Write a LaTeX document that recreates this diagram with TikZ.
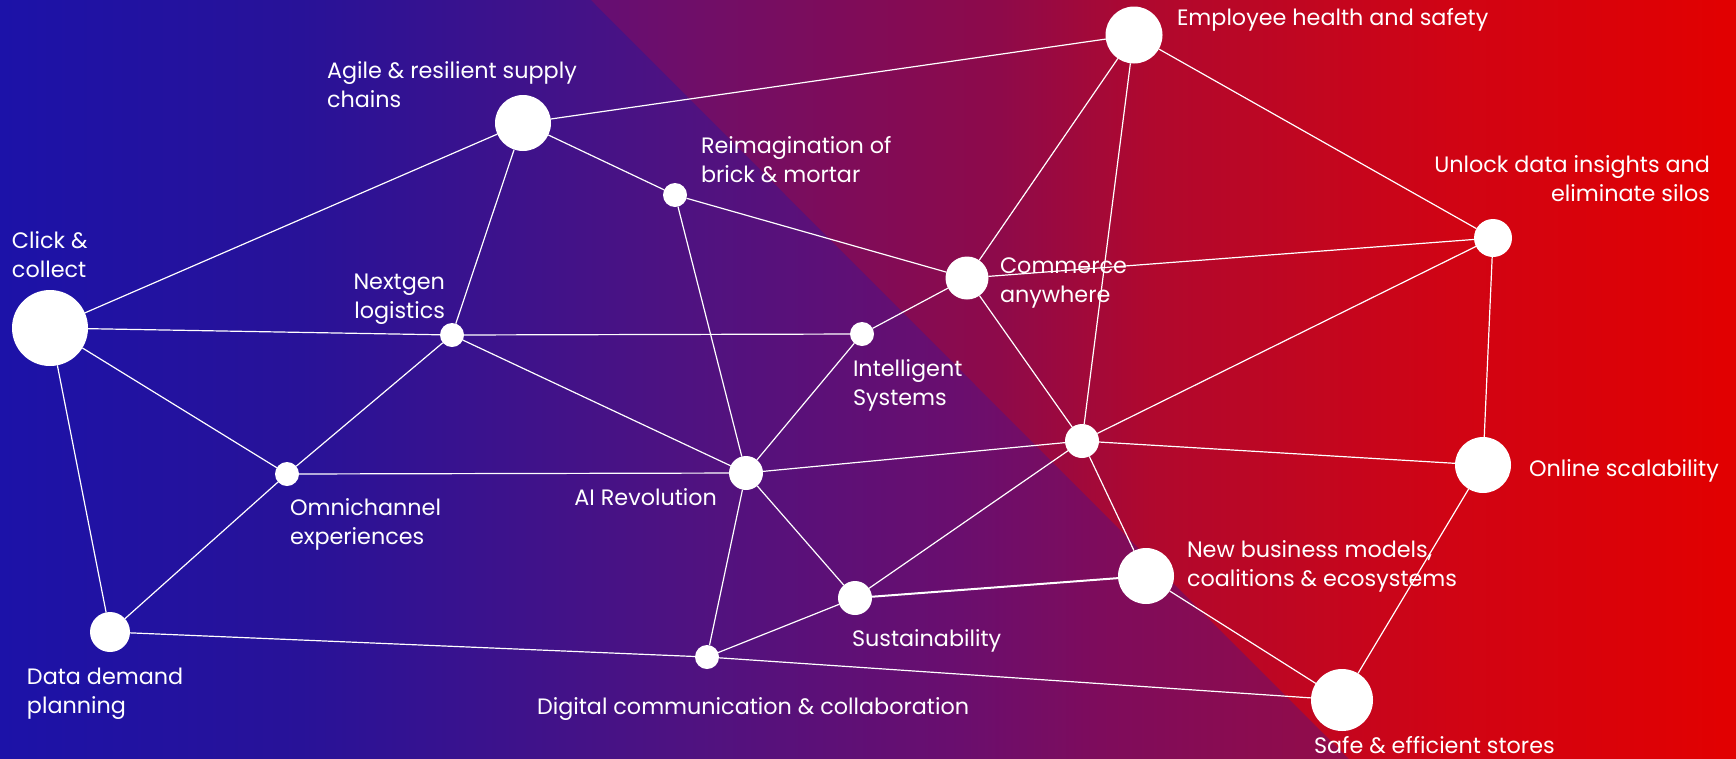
\documentclass[tikz,border=0pt]{standalone}
\usepackage{fontspec}
\setmainfont{Poppins}
\newcommand\mystrut{\rule{0pt}{20pt}}
\definecolor{la}{RGB}{28,18,168}
\definecolor{lb}{RGB}{40,18,152}
\definecolor{lc}{RGB}{80,18,128}
\definecolor{ld}{RGB}{106,14,110}
\definecolor{le}{RGB}{126,12,92}
\definecolor{lf}{RGB}{143,12,76}
\definecolor{lg}{RGB}{152,10,68}
\definecolor{ua}{RGB}{100,14,116}
\definecolor{ub}{RGB}{112,14,104}
\definecolor{uc}{RGB}{142,10,74}
\definecolor{ud}{RGB}{176,8,46}
\definecolor{ue}{RGB}{208,4,20}
\definecolor{uf}{RGB}{226,0,0}
\tikzset{
  dot/.style={circle, fill=white, draw=none, inner sep=0pt, outer sep=0pt, minimum size=#1},
  lbl/.style={text=white, inner sep=0pt, outer sep=0pt, font=\fontsize{22.3}{29}\selectfont},
  link/.style={draw=white, line width=1.2pt},
  thicklink/.style={draw=white, line width=2pt}
}
\begin{document}
\begin{tikzpicture}[x=1pt, y=-1pt]
\useasboundingbox (0,0) rectangle (1736,758);
% background lower-left layer
\shade[left color=la, right color=lb] (-1,-1) rectangle (300.5,759);
\shade[left color=lb, right color=lc] (300,-1) rectangle (700.5,759);
\shade[left color=lc, right color=ld] (700,-1) rectangle (960.5,759);
\shade[left color=ld, right color=le] (960,-1) rectangle (1100.5,759);
\shade[left color=le, right color=lf] (1100,-1) rectangle (1300.5,759);
\shade[left color=lf, right color=lg] (1300,-1) rectangle (1737,759);
% background upper-right layer
\begin{scope}
\clip (590,-1) -- (1737,-1) -- (1737,759) -- (1349,759) -- cycle;
\shade[left color=ua, right color=ub] (585,-1) rectangle (700.5,759);
\shade[left color=ub, right color=uc] (700,-1) rectangle (1000.5,759);
\shade[left color=uc, right color=ud] (1000,-1) rectangle (1150.5,759);
\shade[left color=ud, right color=ue] (1150,-1) rectangle (1450.5,759);
\shade[left color=ue, right color=uf] (1450,-1) rectangle (1737,759);
\end{scope}
% nodes
\node[dot=76pt] (click) at (50,328) {};
\node[dot=56pt] (agile) at (523,123) {};
\node[dot=24pt] (reim) at (675,195) {};
\node[dot=43pt] (comm) at (967,278) {};
\node[dot=57pt] (empl) at (1134,35) {};
\node[dot=38pt] (unlock) at (1493,238) {};
\node[dot=24pt] (nextgen) at (452,335) {};
\node[dot=24pt] (intel) at (862,334) {};
\node[dot=24pt] (omni) at (287,474) {};
\node[dot=34pt] (ai) at (746,473) {};
\node[dot=34pt] (mid) at (1082,441) {};
\node[dot=56pt] (online) at (1483,465) {};
\node[dot=56pt] (newbiz) at (1146,576) {};
\node[dot=62pt] (safe) at (1342,700) {};
\node[dot=34pt] (sust) at (855,598) {};
\node[dot=24pt] (digital) at (707,657) {};
\node[dot=40pt] (data) at (110,632) {};
% connectors
\draw[link] (click) -- (agile);
\draw[link] (click) -- (nextgen);
\draw[link] (click) -- (omni);
\draw[link] (click) -- (data);
\draw[link] (agile) -- (nextgen);
\draw[link] (agile) -- (empl);
\draw[link] (agile) -- (reim);
\draw[link] (reim) -- (comm);
\draw[link] (reim) -- (ai);
\draw[link] (nextgen) -- (omni);
\draw[link] (nextgen) -- (ai);
\draw[link] (nextgen) -- (intel);
\draw[link] (omni) -- (ai);
\draw[link] (omni) -- (data);
\draw[link] (intel) -- (comm);
\draw[link] (intel) -- (ai);
\draw[link] (ai) -- (mid);
\draw[link] (ai) -- (sust);
\draw[link] (ai) -- (digital);
\draw[link] (data) -- (digital);
\draw[link] (digital) -- (sust);
\draw[link] (digital) -- (safe);
\draw[link] (sust) -- (mid);
\draw[thicklink] (sust) -- (newbiz);
\draw[link] (comm) -- (empl);
\draw[link] (comm) -- (unlock);
\draw[link] (comm) -- (mid);
\draw[link] (empl) -- (mid);
\draw[link] (empl) -- (unlock);
\draw[link] (unlock) -- (mid);
\draw[link] (unlock) -- (online);
\draw[link] (mid) -- (online);
\draw[link] (mid) -- (newbiz);
\draw[link] (newbiz) -- (safe);
\draw[link] (online) -- (safe);
% labels
\node[lbl, anchor=base west] (templ) at (1177,25) {Employee health and safety};
\node[lbl, anchor=base west] (tonline) at (1529,476) {Online scalability};
\node[lbl, anchor=base west] (tsust) at (852,646) {Sustainability};
\node[lbl, anchor=base west] (tdigital) at (537,714) {Digital communication \& collaboration};
\node[lbl, anchor=base west] (tsafe) at (1314,753) {Safe \& efficient stores};
\node[lbl, anchor=base east] (tai) at (717,505) {AI Revolution};
\node[lbl, anchor=north west, align=left] (tclick) at (12,228) {\mystrut Click \&\\collect};
\node[lbl, anchor=north west, align=left] (tagile) at (327,58) {\mystrut Agile \& resilient supply\\chains};
\node[lbl, anchor=north west, align=left] (treim) at (701,133) {\mystrut Reimagination of\\brick \& mortar};
\node[lbl, anchor=north east, align=right] (tnextgen) at (445,269) {\mystrut Nextgen\\logistics};
\node[lbl, anchor=north west, align=left] (tcomm) at (1000,253) {\mystrut Commerce\\anywhere};
\node[lbl, anchor=north west, align=left] (tintel) at (853,356) {\mystrut Intelligent\\Systems};
\node[lbl, anchor=north west, align=left] (tomni) at (290,495) {\mystrut Omnichannel\\experiences};
\node[lbl, anchor=north west, align=left] (tnewbiz) at (1187,537) {\mystrut New business models,\\coalitions \& ecosystems};
\node[lbl, anchor=north west, align=left] (tdata) at (27,664) {\mystrut Data demand\\planning};
\node[lbl, anchor=north east, align=right] (tunlock) at (1710,152) {\mystrut Unlock data insights and\\eliminate silos};
\end{tikzpicture}
\end{document}
